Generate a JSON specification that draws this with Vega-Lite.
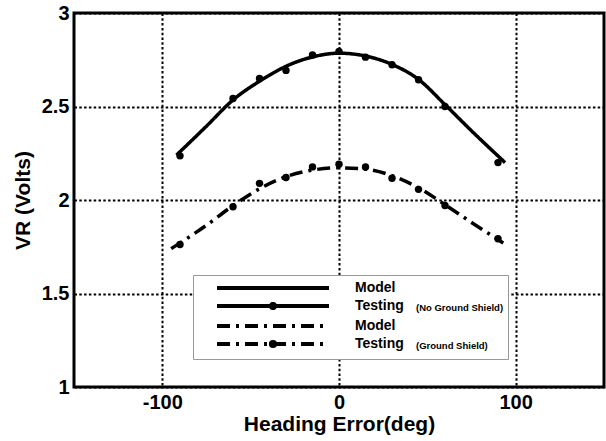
{
  "$schema": "https://vega.github.io/schema/vega-lite/v6.json",
  "autosize": "none",
  "width": 530,
  "height": 374,
  "padding": {"left": 74, "top": 13, "right": 2, "bottom": 54},
  "background": "white",
  "config": {
    "view": {"stroke": "black", "strokeWidth": 3},
    "font": "Liberation Sans",
    "axis": {
      "grid": true, "gridColor": "black", "gridOpacity": 1, "gridWidth": 2, "gridDash": [2.5, 2.3],
      "domain": false, "ticks": false,
      "labelFont": "Liberation Sans", "labelFontWeight": "bold", "labelFontSize": 20, "labelColor": "black",
      "titleFont": "Liberation Sans", "titleFontWeight": "bold", "titleFontSize": 21, "titleColor": "black"
    }
  },
  "data": {"values": [
    {"series": "Model (No Ground Shield)", "kind": "Model", "note": "", "x": -92, "v": 2.24},
    {"series": "Model (No Ground Shield)", "kind": "Model", "note": "", "x": -75, "v": 2.395},
    {"series": "Model (No Ground Shield)", "kind": "Model", "note": "", "x": -60, "v": 2.535},
    {"series": "Model (No Ground Shield)", "kind": "Model", "note": "", "x": -45, "v": 2.635},
    {"series": "Model (No Ground Shield)", "kind": "Model", "note": "", "x": -30, "v": 2.715},
    {"series": "Model (No Ground Shield)", "kind": "Model", "note": "", "x": -15, "v": 2.765},
    {"series": "Model (No Ground Shield)", "kind": "Model", "note": "", "x": 0, "v": 2.785},
    {"series": "Model (No Ground Shield)", "kind": "Model", "note": "", "x": 15, "v": 2.77},
    {"series": "Model (No Ground Shield)", "kind": "Model", "note": "", "x": 30, "v": 2.725},
    {"series": "Model (No Ground Shield)", "kind": "Model", "note": "", "x": 45, "v": 2.645},
    {"series": "Model (No Ground Shield)", "kind": "Model", "note": "", "x": 60, "v": 2.51},
    {"series": "Model (No Ground Shield)", "kind": "Model", "note": "", "x": 75, "v": 2.37},
    {"series": "Model (No Ground Shield)", "kind": "Model", "note": "", "x": 94, "v": 2.2},
    {"series": "Testing (No Ground Shield)", "kind": "Testing", "note": "(No Ground Shield)", "x": -90, "v": 2.236},
    {"series": "Testing (No Ground Shield)", "kind": "Testing", "note": "(No Ground Shield)", "x": -60, "v": 2.543},
    {"series": "Testing (No Ground Shield)", "kind": "Testing", "note": "(No Ground Shield)", "x": -45, "v": 2.65},
    {"series": "Testing (No Ground Shield)", "kind": "Testing", "note": "(No Ground Shield)", "x": -30, "v": 2.693},
    {"series": "Testing (No Ground Shield)", "kind": "Testing", "note": "(No Ground Shield)", "x": -15, "v": 2.775},
    {"series": "Testing (No Ground Shield)", "kind": "Testing", "note": "(No Ground Shield)", "x": 0, "v": 2.795},
    {"series": "Testing (No Ground Shield)", "kind": "Testing", "note": "(No Ground Shield)", "x": 15, "v": 2.764},
    {"series": "Testing (No Ground Shield)", "kind": "Testing", "note": "(No Ground Shield)", "x": 30, "v": 2.723},
    {"series": "Testing (No Ground Shield)", "kind": "Testing", "note": "(No Ground Shield)", "x": 45, "v": 2.643},
    {"series": "Testing (No Ground Shield)", "kind": "Testing", "note": "(No Ground Shield)", "x": 60, "v": 2.5},
    {"series": "Testing (No Ground Shield)", "kind": "Testing", "note": "(No Ground Shield)", "x": 90, "v": 2.2},
    {"series": "Model (Ground Shield)", "kind": "Model", "note": "", "x": -95, "v": 1.74},
    {"series": "Model (Ground Shield)", "kind": "Model", "note": "", "x": -75, "v": 1.865},
    {"series": "Model (Ground Shield)", "kind": "Model", "note": "", "x": -60, "v": 1.97},
    {"series": "Model (Ground Shield)", "kind": "Model", "note": "", "x": -45, "v": 2.06},
    {"series": "Model (Ground Shield)", "kind": "Model", "note": "", "x": -30, "v": 2.125},
    {"series": "Model (Ground Shield)", "kind": "Model", "note": "", "x": -15, "v": 2.16},
    {"series": "Model (Ground Shield)", "kind": "Model", "note": "", "x": 0, "v": 2.172},
    {"series": "Model (Ground Shield)", "kind": "Model", "note": "", "x": 15, "v": 2.165},
    {"series": "Model (Ground Shield)", "kind": "Model", "note": "", "x": 30, "v": 2.13},
    {"series": "Model (Ground Shield)", "kind": "Model", "note": "", "x": 45, "v": 2.065},
    {"series": "Model (Ground Shield)", "kind": "Model", "note": "", "x": 60, "v": 1.975},
    {"series": "Model (Ground Shield)", "kind": "Model", "note": "", "x": 75, "v": 1.88},
    {"series": "Model (Ground Shield)", "kind": "Model", "note": "", "x": 93, "v": 1.77},
    {"series": "Testing (Ground Shield)", "kind": "Testing", "note": "(Ground Shield)", "x": -90, "v": 1.762},
    {"series": "Testing (Ground Shield)", "kind": "Testing", "note": "(Ground Shield)", "x": -60, "v": 1.964},
    {"series": "Testing (Ground Shield)", "kind": "Testing", "note": "(Ground Shield)", "x": -45, "v": 2.089},
    {"series": "Testing (Ground Shield)", "kind": "Testing", "note": "(Ground Shield)", "x": -30, "v": 2.12},
    {"series": "Testing (Ground Shield)", "kind": "Testing", "note": "(Ground Shield)", "x": -15, "v": 2.177},
    {"series": "Testing (Ground Shield)", "kind": "Testing", "note": "(Ground Shield)", "x": 0, "v": 2.191},
    {"series": "Testing (Ground Shield)", "kind": "Testing", "note": "(Ground Shield)", "x": 15, "v": 2.177},
    {"series": "Testing (Ground Shield)", "kind": "Testing", "note": "(Ground Shield)", "x": 30, "v": 2.116},
    {"series": "Testing (Ground Shield)", "kind": "Testing", "note": "(Ground Shield)", "x": 45, "v": 2.057},
    {"series": "Testing (Ground Shield)", "kind": "Testing", "note": "(Ground Shield)", "x": 60, "v": 1.971},
    {"series": "Testing (Ground Shield)", "kind": "Testing", "note": "(Ground Shield)", "x": 90, "v": 1.793}
  ]},
  "encoding": {
    "x": {"field": "x", "type": "quantitative",
      "scale": {"domain": [-150, 150], "nice": false, "zero": false},
      "axis": {"title": "Heading Error(deg)", "values": [-100, 0, 100], "labelPadding": 5, "titlePadding": 1,
        "labelExpr": "datum.value < 0 ? '-' + abs(datum.value) : '' + datum.value"}},
    "y": {"field": "v", "type": "quantitative",
      "scale": {"domain": [1, 3], "nice": false, "zero": false},
      "axis": {"title": "VR (Volts)", "values": [1, 1.5, 2, 2.5, 3], "format": "~g", "labelPadding": 5, "titlePadding": 8}}
  },
  "layer": [
    {
      "transform": [{"filter": "datum.kind == 'Model'"}],
      "mark": {"type": "line", "color": "black", "strokeWidth": 3.5, "interpolate": "monotone"},
      "encoding": {
        "strokeDash": {"field": "series", "type": "nominal",
          "scale": {"domain": ["Model (No Ground Shield)", "Testing (No Ground Shield)", "Model (Ground Shield)", "Testing (Ground Shield)"],
                    "range": [[1, 0], [1, 0], [13, 6, 3, 6], [13, 6, 3, 6]]},
          "legend": {
            "title": null, "orient": "none", "legendX": 141, "legendY": 266, "zindex": 2,
            "padding": 0, "rowPadding": -1, "symbolSize": 196, "symbolOffset": 49, "symbolStrokeWidth": 4, "symbolStrokeColor": "black",
            "labelOffset": 73, "labelFontSize": 14, "labelFontWeight": "bold", "labelFont": "Liberation Sans", "labelColor": "black",
            "labelExpr": "indexof(datum.value, 'Model') == 0 ? 'Model' : 'Testing'",
            "encode": {"symbols": {"update": {
              "shape": {"signal": "indexof(datum.value, 'Testing') == 0 ? 'M-8,0H8M0.3,0A0.3,0.3,0,1,1,-0.3,0A0.3,0.3,0,1,1,0.3,0' : 'M-8,0H8'"},
              "fill": {"value": "black"}, "stroke": {"value": "black"}, "strokeWidth": {"value": 4}
            }}}
          }}
      }
    },
    {
      "transform": [{"filter": "datum.kind == 'Testing'"}],
      "mark": {"type": "point", "filled": true, "color": "black", "size": 55, "opacity": 1},
      "encoding": {
        "shape": {"field": "note", "type": "nominal",
          "scale": {"domain": ["m1", "(No Ground Shield)", "m2", "(Ground Shield)"], "range": ["circle", "circle", "circle", "circle"]},
          "legend": {
            "title": null, "orient": "none", "legendX": 119, "legendY": 262, "zindex": 1,
            "padding": 4, "rowPadding": 0, "symbolSize": 361, "symbolOpacity": 0, "symbolStrokeWidth": 0,
            "fillColor": "white", "strokeColor": "#999999",
            "labelOffset": 200, "labelFontSize": 9.5, "labelFontWeight": "bold", "labelFont": "Liberation Sans", "labelColor": "black",
            "labelExpr": "indexof(datum.value, '(') == 0 ? datum.value : ''"
          }}
      }
    }
  ]
}
